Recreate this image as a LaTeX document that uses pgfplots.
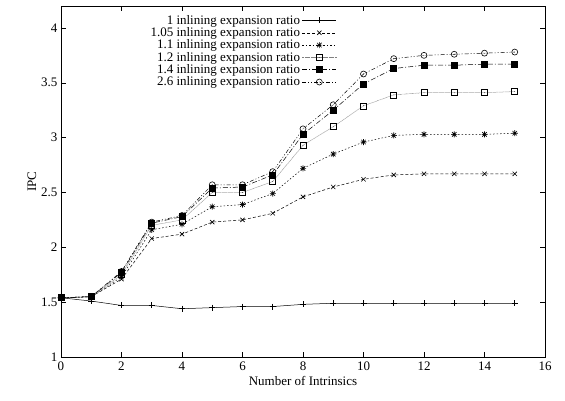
\documentclass[border=0pt]{standalone}
\usepackage{fontspec}
\setmainfont{Liberation Serif}
\usepackage{pgfplots}
\pgfplotsset{compat=1.18}
\pgfdeclareplotmark{plusx}{%
  \pgfpathmoveto{\pgfqpoint{-\pgfplotmarksize}{0pt}}\pgfpathlineto{\pgfqpoint{\pgfplotmarksize}{0pt}}%
  \pgfpathmoveto{\pgfqpoint{0pt}{-\pgfplotmarksize}}\pgfpathlineto{\pgfqpoint{0pt}{\pgfplotmarksize}}%
  \pgfpathmoveto{\pgfqpoint{-0.75\pgfplotmarksize}{-0.75\pgfplotmarksize}}\pgfpathlineto{\pgfqpoint{0.75\pgfplotmarksize}{0.75\pgfplotmarksize}}%
  \pgfpathmoveto{\pgfqpoint{-0.75\pgfplotmarksize}{0.75\pgfplotmarksize}}\pgfpathlineto{\pgfqpoint{0.75\pgfplotmarksize}{-0.75\pgfplotmarksize}}%
  \pgfusepathqstroke}
\pgfdeclareplotmark{dotsquare}{%
  \pgfpathrectangle{\pgfqpoint{-\pgfplotmarksize}{-\pgfplotmarksize}}{\pgfqpoint{2\pgfplotmarksize}{2\pgfplotmarksize}}%
  \pgfusepathqstroke
  \pgfpathcircle{\pgfpointorigin}{0.35pt}\pgfusepathqfill}
\pgfdeclareplotmark{dotcircle}{%
  \pgfpathcircle{\pgfpointorigin}{\pgfplotmarksize}%
  \pgfusepathqstroke
  \pgfpathcircle{\pgfpointorigin}{0.35pt}\pgfusepathqfill}
\begin{document}
\begin{tikzpicture}[font=\fontsize{13}{15}\selectfont]
\useasboundingbox (-61pt,-43pt) rectangle (504pt,357pt);
\begin{axis}[
  at={(0,0)}, anchor=south west,
  scale only axis, width=484pt, height=351pt,
  xmin=0, xmax=16, ymin=1, ymax=4.2,
  xtick={0,2,...,16}, ytick={1,1.5,2,2.5,3,3.5,4},
  yticklabels={1,1.5,2,2.5,3,3.5,4},
  /pgf/number format/assume math mode=true,
  tick align=inside, major tick length=5pt,
  tick style={black, line width=0.5pt},
  axis line style={line width=0.8pt},
  xticklabel style={yshift=-1pt},
  xlabel={Number of Intrinsics}, ylabel={IPC},
  xlabel style={yshift=1pt},
  ylabel style={yshift=-2pt},
  legend cell align=right,
  legend plot pos=right,
  legend style={draw=none, fill=none, at={(0.572,0.983)}, anchor=north east,
    row sep=-2.2pt, inner sep=1pt, font=\fontsize{13}{14}\selectfont},
  legend image code/.code={\draw[mark repeat=2,mark phase=2,#1] plot coordinates {(0cm,0cm)(0.6cm,0cm)(1.2cm,0cm)};},
  every axis plot/.append style={black, line width=0.5pt, mark size=3pt, mark options={solid, black, line width=0.6pt}},
]
\addplot[mark=+] coordinates {(0,1.54)(1,1.51)(2,1.47)(3,1.47)(4,1.44)(5,1.45)(6,1.46)(7,1.46)(8,1.48)(9,1.49)(10,1.49)(11,1.49)(12,1.49)(13,1.49)(14,1.49)(15,1.49)};
\addlegendentry{1 inlining expansion ratio}
\addplot[mark=x, dash pattern=on 3pt off 2pt] coordinates {(0,1.54)(1,1.55)(2,1.71)(3,2.08)(4,2.12)(5,2.23)(6,2.25)(7,2.31)(8,2.46)(9,2.55)(10,2.62)(11,2.66)(12,2.67)(13,2.67)(14,2.67)(15,2.67)};
\addlegendentry{1.05 inlining expansion ratio}
\addplot[mark=plusx, dash pattern=on 1.5pt off 2pt] coordinates {(0,1.54)(1,1.55)(2,1.73)(3,2.16)(4,2.21)(5,2.37)(6,2.39)(7,2.49)(8,2.72)(9,2.85)(10,2.96)(11,3.02)(12,3.03)(13,3.03)(14,3.03)(15,3.04)};
\addlegendentry{1.1 inlining expansion ratio}
\addplot[gray, mark=dotsquare, dash pattern=on 0.6pt off 0.6pt] coordinates {(0,1.54)(1,1.55)(2,1.75)(3,2.20)(4,2.25)(5,2.50)(6,2.50)(7,2.60)(8,2.93)(9,3.10)(10,3.29)(11,3.39)(12,3.41)(13,3.41)(14,3.41)(15,3.42)};
\addlegendentry{1.2 inlining expansion ratio}
\addplot[mark=square*, dash pattern=on 5pt off 2pt on 1pt off 2pt] coordinates {(0,1.54)(1,1.55)(2,1.77)(3,2.22)(4,2.28)(5,2.54)(6,2.55)(7,2.66)(8,3.03)(9,3.25)(10,3.49)(11,3.63)(12,3.66)(13,3.66)(14,3.67)(15,3.67)};
\addlegendentry{1.4 inlining expansion ratio}
\addplot[mark=dotcircle, dash pattern=on 4pt off 2pt on 1pt off 2pt on 1pt off 2pt] coordinates {(0,1.54)(1,1.55)(2,1.78)(3,2.23)(4,2.29)(5,2.57)(6,2.57)(7,2.69)(8,3.08)(9,3.30)(10,3.58)(11,3.72)(12,3.75)(13,3.76)(14,3.77)(15,3.78)};
\addlegendentry{2.6 inlining expansion ratio}
\end{axis}
\end{tikzpicture}
\end{document}
